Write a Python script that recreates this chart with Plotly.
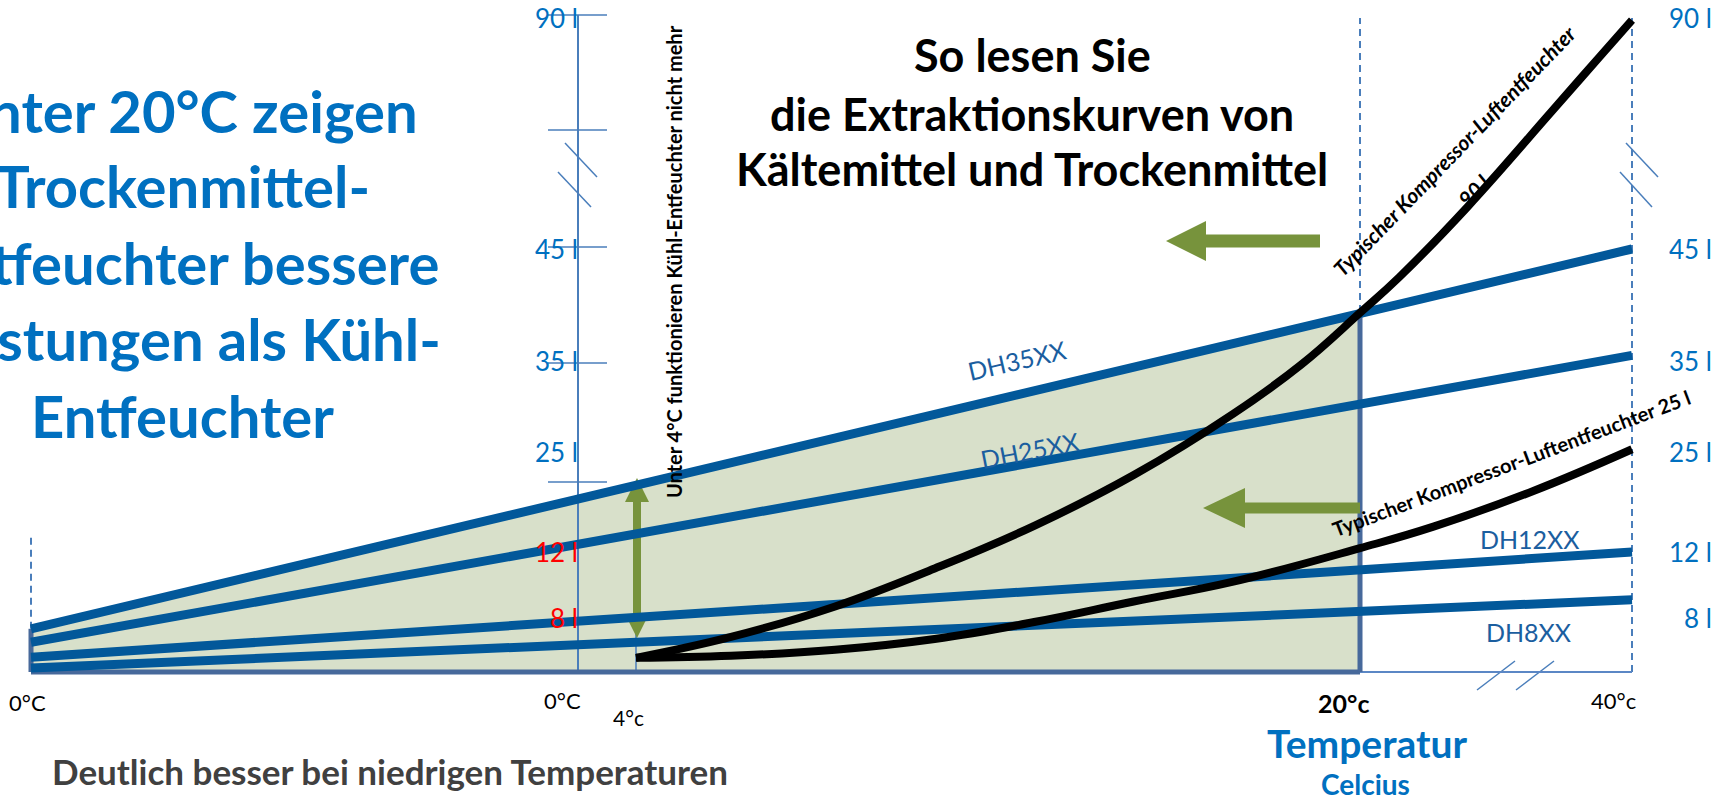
import numpy as np
import plotly.graph_objects as go

# ---------------- data ----------------
SERIES = ["DH35XX", "DH25XX", "DH12XX", "DH8XX"]
SERIES_START_L = [6.4, 4.4, 2.2, 0.6]      # litres/day at the left edge (0 °C)
SERIES_END_L = [45.0, 35.5, 12.0, 9.1]     # litres/day at 40 °C

CURVE90_T = [4.0, 6.1, 8.4, 10.6, 12.8, 15.0, 17.2, 18.7, 20.0, 22.9, 27.9, 34.0, 37.6, 40.0]
CURVE90_L = [2.1, 5.2, 8.7, 11.0, 15.4, 22.0, 29.2, 34.6, 39.3, 42.5, 53.2, 71.5, 82.4, 89.6]
CURVE25_T = [4.0, 6.1, 8.4, 10.6, 12.8, 15.0, 17.2, 20.0, 25.4, 32.7, 40.0]
CURVE25_L = [2.1, 2.4, 3.3, 4.9, 7.4, 9.0, 10.2, 12.5, 15.3, 19.9, 25.3]

Y_TICK_L = [90, 45, 35, 25, 12, 8]
Y_TICK_TEXT = ["90 l", "45 l", "35 l", "25 l", "12 l", "8 l"]
Y_TICK_COLOR_MID = ["#0070c0", "#0070c0", "#0070c0", "#0070c0", "#ff0000", "#ff0000"]
X_TICK_TEXT = ["0°C", "0°C", "4°c", "20°c", "40°c"]

# ---------------- broken (not-to-scale) axis scales ----------------
L_KNOTS = [0, 8, 12, 25, 35, 45, 90]
H_KNOTS = [0, 54, 120, 220, 311, 423, 654]
T_KNOTS = [0, 4, 20, 40]
X_KNOTS = [578, 636, 1360, 1632]
X_LEFT = 31


def yh(litres):
    return np.interp(litres, L_KNOTS, H_KNOTS)


def xt(temp):
    return np.interp(temp, T_KNOTS, X_KNOTS)


def py(pixel_y):  # page pixel row -> axis height
    return 672 - pixel_y


X_END = float(xt(40))
X_20 = float(xt(20))

BLUE = "#02589a"
AXIS_BLUE = "#4a7ebb"
GREEN = "#77933c"
FILL = "#d8e0ca"
FRAME = "#47699b"
FONT = "Lato"

fig = go.Figure()


def line_h(i, x):
    h0, h1 = yh(SERIES_START_L[i]), yh(SERIES_END_L[i])
    return h0 + (h1 - h0) * (np.asarray(x) - X_LEFT) / (X_END - X_LEFT)


def poly_path(pts):
    return "M " + " L ".join(f"{x},{y}" for x, y in pts) + " Z"


shapes = []


def seg(x0, y0, x1, y1, color, width, dash=None):
    d = dict(type="line", xref="x", yref="y", x0=x0, y0=y0, x1=x1, y1=y1,
             line=dict(color=color, width=width), layer="below")
    if dash:
        d["line"]["dash"] = dash
    shapes.append(d)


# shaded region under DH35XX up to 20 °C
fill_pts = [(X_LEFT, 0), (X_LEFT, float(line_h(0, X_LEFT))),
            (X_20, float(line_h(0, X_20))), (X_20, 0)]
shapes.append(dict(type="path", xref="x", yref="y", path=poly_path(fill_pts),
                   fillcolor=FILL, line=dict(width=0), layer="below"))

# middle axis + ticks
seg(578, 0, 578, py(15), AXIS_BLUE, 2)
for h in [py(15), py(130), py(247), py(363), py(482)]:
    seg(548, h, 607, h, AXIS_BLUE, 1.5)
# break marks on middle axis
seg(565, py(143), 597, py(177), AXIS_BLUE, 1.5)
seg(558, py(172), 591, py(207), AXIS_BLUE, 1.5)
# 4 °C tick
seg(xt(4), 0, xt(4), py(627), AXIS_BLUE, 1.5)

# dashed guides
seg(X_LEFT, float(line_h(0, X_LEFT)), X_LEFT, py(535), AXIS_BLUE, 2, "7px,5px")
seg(X_20, 0, X_20, py(18), AXIS_BLUE, 2, "7px,5px")
seg(X_END, 0, X_END, py(18), AXIS_BLUE, 2, "7px,5px")
# right axis break marks
seg(1626, py(143), 1658, py(177), AXIS_BLUE, 1.5)
seg(1620, py(172), 1652, py(207), AXIS_BLUE, 1.5)
# bottom break marks
seg(1477, py(690), 1515, py(661), AXIS_BLUE, 1.5)
seg(1516, py(690), 1554, py(661), AXIS_BLUE, 1.5)

# frame of the shaded region
seg(X_20, 0, X_END, 0, "#5b87c5", 2)
seg(X_LEFT, 0, X_20, 0, FRAME, 5)
seg(X_LEFT, 0, X_LEFT, float(line_h(0, X_LEFT)), FRAME, 5)
seg(X_20, 0, X_20, float(line_h(0, X_20)), FRAME, 5)


def harrow(x_tail, x_tip, yc, shaft=6.5, head_len=40, head_half=20):
    xb = x_tip + head_len
    return [(x_tail, yc - shaft), (xb, yc - shaft), (xb, yc - head_half), (x_tip, yc),
            (xb, yc + head_half), (xb, yc + shaft), (x_tail, yc + shaft)]


def varrow(xc, y_top, y_bot, shaft=4, head_len=24, head_half=12):
    yt, yb = y_top - head_len, y_bot + head_len
    return [(xc, y_top), (xc + head_half, yt), (xc + shaft, yt), (xc + shaft, yb),
            (xc + head_half, yb), (xc, y_bot), (xc - head_half, yb), (xc - shaft, yb),
            (xc - shaft, yt), (xc - head_half, yt)]


for pts in [harrow(1320, 1166, py(241)),
            harrow(X_20, 1203, py(508), shaft=5.5, head_len=42, head_half=20),
            varrow(637, py(478), py(638))]:
    shapes.append(dict(type="path", xref="x", yref="y", path=poly_path(pts),
                       fillcolor=GREEN, line=dict(width=0), layer="below"))

# DH lines
for i, name in enumerate(SERIES):
    xs = np.array([X_LEFT, X_END])
    fig.add_trace(go.Scatter(x=xs, y=line_h(i, xs), mode="lines", name=name,
                             line=dict(color=BLUE, width=9), hoverinfo="skip"))

# compressor curves
for T, L, name in [(CURVE90_T, CURVE90_L, "90 l"), (CURVE25_T, CURVE25_L, "25 l")]:
    fig.add_trace(go.Scatter(x=xt(T), y=yh(L), mode="lines", name=name,
                             line=dict(color="black", width=8, shape="spline", smoothing=1.2),
                             hoverinfo="skip"))

ann = []


def text(x, y, s, size, color="black", bold=False, italic=False, angle=0, xanchor="center",
         family=FONT):
    if bold:
        s = f"<b>{s}</b>"
    if italic:
        s = f"<i>{s}</i>"
    ann.append(dict(x=x, y=y, xref="x", yref="y", text=s, showarrow=False,
                    xanchor=xanchor, yanchor="middle", textangle=angle,
                    font=dict(family=family, size=size, color=color)))


# y tick labels
for l, t, c in zip(Y_TICK_L, Y_TICK_TEXT, Y_TICK_COLOR_MID):
    text(580, float(yh(l)), t, 26, color=c, xanchor="right")
    text(1714, float(yh(l)), t, 26, color="#0070c0", xanchor="right")

# x tick labels
text(27, py(702), X_TICK_TEXT[0], 22)
text(562, py(700), X_TICK_TEXT[1], 22)
text(628, py(717), X_TICK_TEXT[2], 21)
text(1343, py(703), X_TICK_TEXT[3], 25, bold=True)
text(1613, py(700), X_TICK_TEXT[4], 22)

text(1367, py(743), "Temperatur", 39, color="#0070c0", bold=True)
text(1365, py(784), "Celcius", 28, color="#0070c0", bold=True)
text(390, py(771), "Deutlich besser bei niedrigen Temperaturen", 35, color="#404040", bold=True)

# title
for s, yy in [("So lesen Sie", 55), ("die Extraktionskurven von", 114),
              ("Kältemittel und Trockenmittel", 169)]:
    text(1032, py(yy), s, 45, bold=True)

# left statement (partly cut off at the left edge, as in the original)
for s, yy in [("Unter 20°C zeigen", 110), ("Trockenmittel-", 185),
              ("Entfeuchter bessere", 262), ("Leistungen als Kühl-", 338),
              ("Entfeuchter", 415)]:
    text(182, py(yy), s, 58, color="#0070c0", bold=True)

# series labels
text(1017, py(360), SERIES[0], 25, color="#1b5e9f", angle=-13)
text(1030, py(450), SERIES[1], 25, color="#1b5e9f", angle=-11)
text(1530, py(539), SERIES[2], 25, color="#1b5e9f")
text(1528, py(632), SERIES[3], 25, color="#1b5e9f")

# curve labels
text(1454, py(150), "Typischer Kompressor-Luftentfeuchter", 21, bold=True, italic=True, angle=-46)
text(1473, py(190), "90 l", 21, bold=True, italic=True, angle=-46)
text(1511, py(463), "Typischer Kompressor-Luftentfeuchter 25 l", 20, bold=True, angle=-20.6)

# vertical note
text(674, py(262), "Unter 4°C funktionieren Kühl-Entfeuchter nicht mehr", 20, bold=True, angle=-90)

fig.update_layout(
    width=1720, height=801, margin=dict(l=0, r=0, t=0, b=0),
    paper_bgcolor="white", plot_bgcolor="white", showlegend=False,
    xaxis=dict(range=[0, 1720], visible=False, fixedrange=True),
    yaxis=dict(range=[-129, 672], visible=False, fixedrange=True),
    shapes=shapes, annotations=ann,
)

fig.write_html("out.html", config={"displayModeBar": False},
               post_script="document.body.style.margin='0';document.body.style.overflow='hidden';")
